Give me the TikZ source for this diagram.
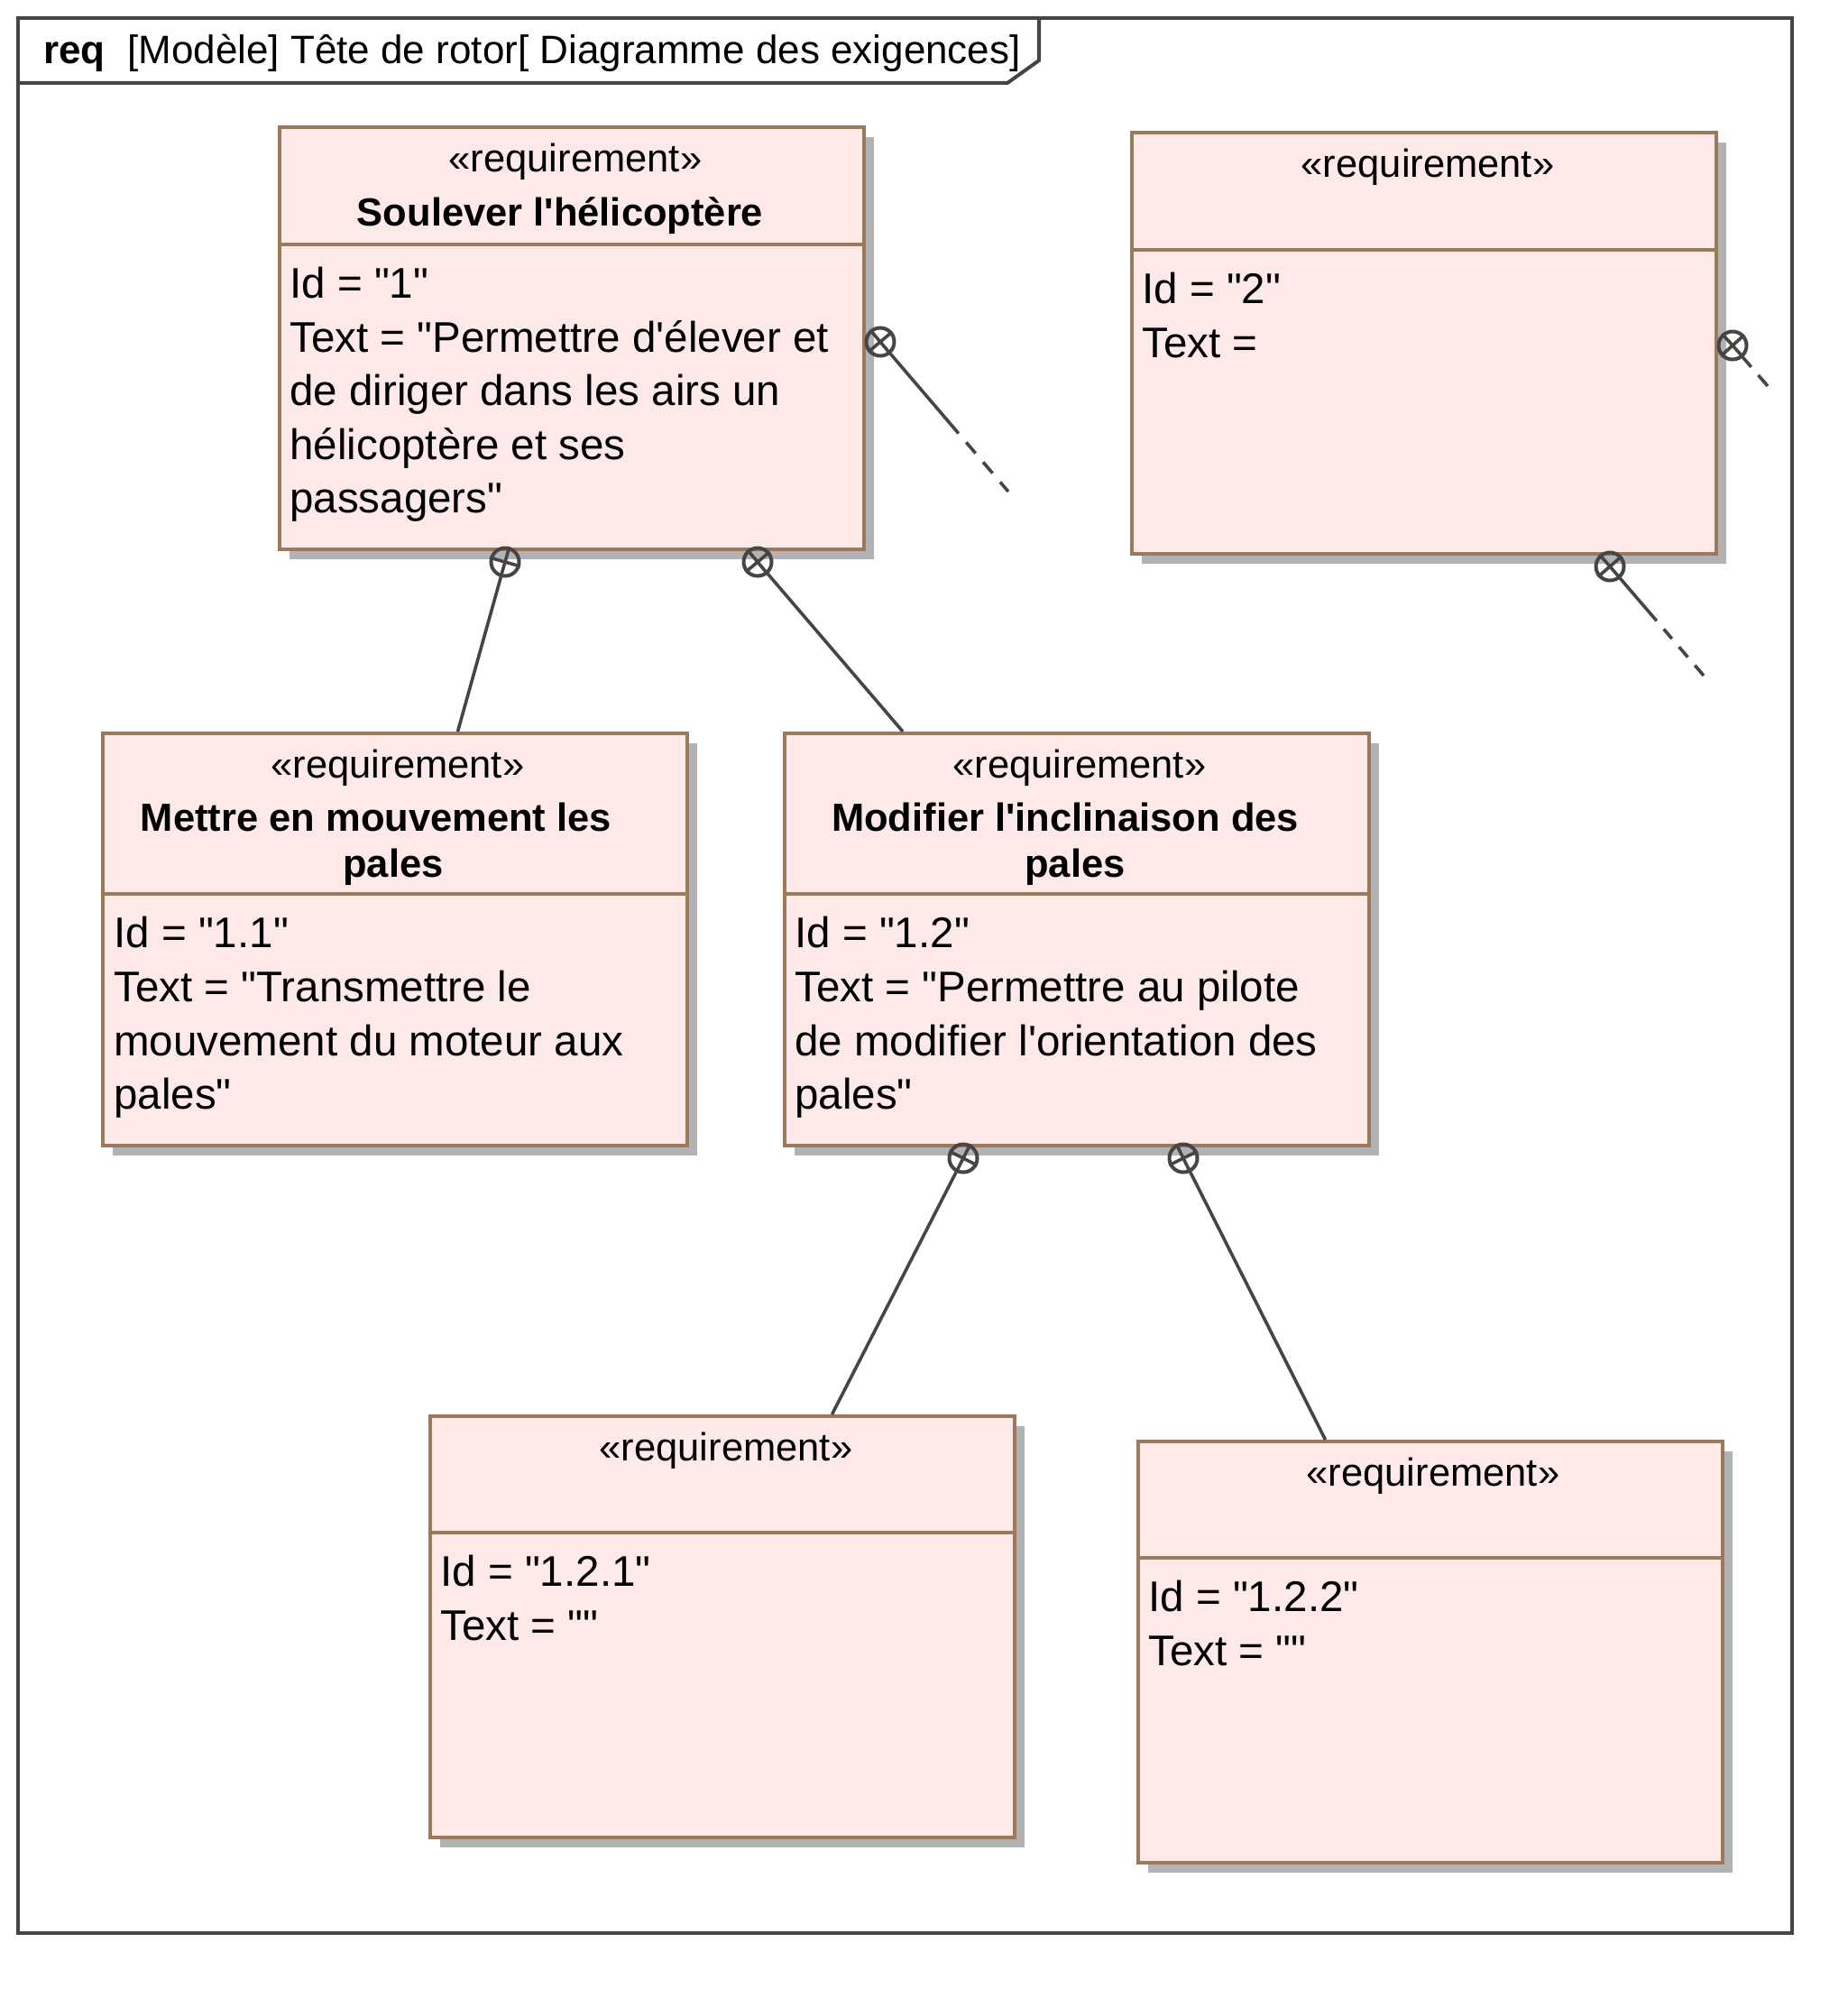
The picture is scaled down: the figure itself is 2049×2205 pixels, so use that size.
\documentclass[tikz,border=0pt]{standalone}
\usepackage{fontspec}
\setmainfont{Liberation Sans}[Ligatures=TeXOff]
\usetikzlibrary{shadows}
\definecolor{boxbrown}{HTML}{9B7A5C}
\definecolor{boxfill}{HTML}{FDE9E7}
\definecolor{shadowgray}{HTML}{B2B2B2}
\definecolor{linegray}{HTML}{454545}
\tikzset{
  frame/.style={draw=linegray, line width=2pt},
  titletext/.style={font=\fontsize{22pt}{26pt}\selectfont, anchor=base west, inner sep=0pt},
  reqbox/.style={draw=boxbrown, fill=boxfill, line width=2pt, minimum width=324pt,
    anchor=north west, inner sep=0pt,
    drop shadow={shadow xshift=5.5pt, shadow yshift=-5.5pt, fill=shadowgray, opacity=1}},
  divider/.style={draw=boxbrown, line width=2pt},
  stereo/.style={font=\fontsize{21.75pt}{26pt}\selectfont, anchor=base, inner sep=0pt},
  rname/.style={font=\bfseries\fontsize{21.75pt}{26pt}\selectfont, anchor=base, inner sep=0pt},
  body/.style={font=\fontsize{23.75pt}{30pt}\selectfont, anchor=base west, inner sep=0pt},
  conn/.style={draw=linegray, line width=1.8pt},
  contain/.style={circle, draw=linegray, line width=2pt, minimum size=15.5pt, inner sep=0pt},
}
\begin{document}
\begin{tikzpicture}[x=0.5pt, y=-0.5pt]
\useasboundingbox (0,0) rectangle (2049,2205);
% frame
\draw[frame] (20,20) rectangle (1987,2143);
\draw[frame] (20,92) -- (1117,92) -- (1152,67) -- (1152,20);
\node[titletext] (title) at (48,71) {\textbf{req}~~[Modèle] Tête de rotor[ Diagramme des exigences]};

% box 1
\node[reqbox, minimum height=234pt] (b1) at (308,139) {};
\draw[divider] ([yshift=-66pt]b1.north west) -- ([yshift=-66pt]b1.north east);
\node[stereo] (b1s) at (638,190) {«requirement»};
\node[rname] (b1n) at (621,250) {Soulever l'hélicoptère};
\node[body] (b1t1) at (321,330) {Id = "1"};
\node[body] (b1t2) at (321,390) {Text = "Permettre d'élever et};
\node[body] (b1t3) at (321,449) {de diriger dans les airs un};
\node[body] (b1t4) at (321,509) {hélicoptère et ses};
\node[body] (b1t5) at (321,568) {passagers"};

% box 2
\node[reqbox, minimum height=233.5pt] (b2) at (1253,145) {};
\draw[divider] ([yshift=-66pt]b2.north west) -- ([yshift=-66pt]b2.north east);
\node[stereo] (b2s) at (1583,196) {«requirement»};
\node[body] (b2t1) at (1266,336) {Id = "2"};
\node[body] (b2t2) at (1266,396) {Text =};

% box 1.1
\node[reqbox, minimum height=228.5pt] (b11) at (112,811) {};
\draw[divider] ([yshift=-90pt]b11.north west) -- ([yshift=-90pt]b11.north east);
\node[stereo] (b11s) at (441,862) {«requirement»};
\node[rname] (b11n1) at (417,921) {Mettre en mouvement les};
\node[rname] (b11n2) at (436,972) {pales};
\node[body] (b11t1) at (126,1050) {Id = "1.1"};
\node[body] (b11t2) at (126,1110) {Text = "Transmettre le};
\node[body] (b11t3) at (126,1170) {mouvement du moteur aux};
\node[body] (b11t4) at (126,1229) {pales"};

% box 1.2
\node[reqbox, minimum height=228.5pt] (b12) at (868,811) {};
\draw[divider] ([yshift=-90pt]b12.north west) -- ([yshift=-90pt]b12.north east);
\node[stereo] (b12s) at (1197,862) {«requirement»};
\node[rname] (b12n1) at (1181,921) {Modifier l'inclinaison des};
\node[rname] (b12n2) at (1192,972) {pales};
\node[body] (b12t1) at (881,1050) {Id = "1.2"};
\node[body] (b12t2) at (881,1110) {Text = "Permettre au pilote};
\node[body] (b12t3) at (881,1170) {de modifier l'orientation des};
\node[body] (b12t4) at (881,1229) {pales"};

% box 1.2.1
\node[reqbox, minimum height=233.5pt] (b121) at (475,1568) {};
\draw[divider] ([yshift=-65.5pt]b121.north west) -- ([yshift=-65.5pt]b121.north east);
\node[stereo] (b121s) at (805,1619) {«requirement»};
\node[body] (b121t1) at (488,1758) {Id = "1.2.1"};
\node[body] (b121t2) at (488,1818) {Text = ""};

% box 1.2.2
\node[reqbox, minimum height=233.5pt] (b122) at (1260,1596) {};
\draw[divider] ([yshift=-65.5pt]b122.north west) -- ([yshift=-65.5pt]b122.north east);
\node[stereo] (b122s) at (1589,1647) {«requirement»};
\node[body] (b122t1) at (1273,1786) {Id = "1.2.2"};
\node[body] (b122t2) at (1273,1846) {Text = ""};

% containment circles
\node[contain] (k1) at (976,379) {};
\node[contain] (k2) at (560,623) {};
\node[contain] (k3) at (840,623) {};
\node[contain] (k4) at (1068,1284) {};
\node[contain] (k5) at (1312,1284) {};
\node[contain] (k6) at (1921,383) {};
\node[contain] (k7) at (1785,628) {};
\draw[conn] (k1.40) -- (k1.220) (k1.130) -- (k1.310);
\draw[conn] (k2.74) -- (k2.254) (k2.164) -- (k2.344);
\draw[conn] (k3.40) -- (k3.220) (k3.130) -- (k3.310);
\draw[conn] (k4.63) -- (k4.243) (k4.153) -- (k4.333);
\draw[conn] (k5.26) -- (k5.206) (k5.116) -- (k5.296);
\draw[conn] (k6.42) -- (k6.222) (k6.132) -- (k6.312);
\draw[conn] (k7.41) -- (k7.221) (k7.131) -- (k7.311);

% connectors
\draw[conn] (k2) -- ([xshift=34.75pt]b11.north);
\draw[conn] (k3) -- ([xshift=-96.5pt]b12.north);
\draw[conn] (k4) -- ([xshift=60.75pt]b121.north);
\draw[conn] (k5) -- ([xshift=-58.25pt]b122.north);
\coordinate (f1) at (1118,545);
\coordinate (f2) at (1960,428);
\coordinate (f3) at (1889,749);
\draw[conn, dash pattern=on 58pt off 6.5pt on 8pt off 6.5pt on 8pt off 6.5pt on 8pt off 20pt] (k1) -- (f1);
\draw[conn, dash pattern=on 7pt off 6pt on 8pt off 20pt] (k6) -- (f2);
\draw[conn, dash pattern=on 31pt off 6pt on 7pt off 6pt on 7.5pt off 6pt on 7.5pt off 20pt] (k7) -- (f3);
\end{tikzpicture}
\end{document}
